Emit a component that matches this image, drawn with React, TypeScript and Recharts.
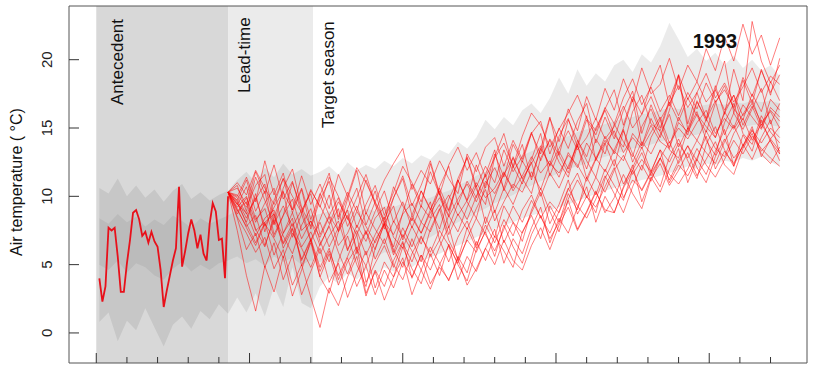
import { ComposedChart, Line, Area, XAxis, YAxis, ReferenceArea } from 'recharts';

// days are counted from the start of the antecedent period
const X_DOMAIN: [number, number] = [-8.9, 231.9];
const Y_DOMAIN: [number, number] = [-2.2, 23.93];
const X_TICKS = [0, 10, 20, 30, 40, 50, 60, 70, 80, 90, 100, 110, 120, 130, 140, 150, 160, 170, 180, 190, 200, 210, 220];
const Y_TICKS = [0, 5, 10, 15, 20];

const LEAD_START = 43;
const TARGET_START = 70.7;

// observed temperature in the antecedent period, one value per day from day 1
const OBS_START = 1;
const observed = [
  4.0, 2.3, 3.4, 7.7, 7.5, 7.7, 5.6, 3.0, 3.0, 5.1,
  6.8, 8.8, 9.0, 8.3, 7.1, 7.4, 6.6, 7.4, 6.7, 6.3,
  4.6, 1.9, 3.1, 4.2, 5.3, 6.2, 10.7, 4.85, 6.0, 7.3,
  8.3, 7.5, 6.2, 7.2, 5.8, 5.3, 8.0, 9.5, 8.9, 6.8,
  6.9, 4.0, 10.0,
];

// climatology envelope, every 3 days from day 1
const ENV_START = 1;
const STEP = 3;
const outerHi = [
  10.6, 10.2, 11.3, 10.0, 10.8, 9.9, 10.5, 9.6, 10.4, 10.9, 9.8, 10.3, 9.7, 10.1, 10.4,
  11.2, 11.8, 11.0, 12.1, 11.4, 12.4, 11.6, 12.0, 11.5,
  11.8, 12.2, 11.6, 12.5, 11.9, 12.3, 12.0, 12.6, 12.2, 12.8,
  12.4, 13.0, 12.7, 13.4, 13.1, 14.0, 13.5, 14.3, 15.6, 14.9,
  15.8, 15.2, 16.3, 16.8, 16.1, 17.2, 18.7, 17.5, 19.3, 18.1,
  19.0, 18.4, 19.6, 20.0, 19.1, 20.4, 19.8, 21.0, 22.7, 21.5,
  20.2, 20.8, 19.9, 20.5, 19.6, 20.3, 19.4, 20.0, 19.2, 19.6, 18.8,
];
const outerLo = [
  0.8, 1.5, -0.6, 0.9, 0.2, 1.8, 0.4, -1.0, 0.6, 1.2, 0.3, 1.6, 1.0, 2.1, 1.4,
  2.6, 1.5, 2.9, 1.2, 3.4, 1.9, 4.8, 2.2, 1.8,
  3.4, 4.1, 3.6, 4.4, 3.9, 4.6, 4.2, 4.8, 4.5, 5.0,
  4.8, 5.3, 5.5, 5.8, 6.1, 6.4, 6.7, 7.0, 7.3, 7.6,
  7.9, 8.1, 8.4, 8.6, 8.8, 9.0, 9.2, 9.4, 9.7, 9.9,
  10.2, 10.4, 10.6, 10.8, 11.0, 11.2, 11.3, 11.5, 11.7, 11.9,
  12.2, 12.0, 12.4, 12.3, 12.6, 12.5, 12.8, 12.6, 12.9, 12.5, 12.2,
];
const innerHi = [
  8.4, 8.0, 8.7, 8.1, 8.5, 7.8, 8.3, 7.9, 8.6, 8.2, 7.7, 8.4, 8.0, 8.3, 8.6,
  9.0, 9.3, 8.8, 9.2, 8.7, 9.1, 8.9, 8.8, 8.6,
  8.7, 8.9, 8.6, 9.0, 8.8, 9.1, 8.9, 9.3, 9.2, 9.5,
  9.4, 9.7, 9.9, 10.2, 10.4, 10.8, 11.1, 11.5, 11.8, 12.1,
  12.4, 12.7, 13.0, 13.3, 13.6, 13.9, 14.2, 14.4, 14.7, 14.9,
  15.1, 15.3, 15.5, 15.7, 15.8, 16.0, 16.1, 16.3, 16.5, 16.4,
  16.5, 16.6, 16.7, 16.8, 16.7, 16.9, 16.8, 17.0, 16.9, 17.0, 16.8,
];
const innerLo = [
  5.0, 4.6, 5.3, 4.4, 5.1, 4.8, 4.2, 3.9, 4.7, 5.2, 4.5, 5.0, 4.6, 5.1, 5.3,
  5.6, 5.1, 5.4, 4.9, 5.6, 5.2, 5.5, 5.0, 5.3,
  5.2, 5.4, 5.1, 5.5, 5.3, 5.7, 5.5, 5.9, 5.8, 6.2,
  6.3, 6.7, 7.0, 7.4, 7.7, 8.1, 8.4, 8.8, 9.1, 9.5,
  9.8, 10.1, 10.5, 10.8, 11.1, 11.4, 11.7, 12.0, 12.2, 12.4,
  12.7, 12.9, 13.1, 13.3, 13.5, 13.6, 13.8, 14.0, 14.2, 14.3,
  14.4, 14.5, 14.7, 14.8, 14.9, 15.0, 15.1, 15.2, 15.3, 15.2, 15.1,
];

// forecast members, every 3 days from day 43
const ENS_START = 43;
const m01 = [
  10.3, 9.7, 11.2, 8.9, 10.4, 7.2, 8.6, 11.0, 9.1, 6.8,
  8.3, 10.1, 7.4, 9.8, 11.9, 8.7, 10.4, 7.9, 6.3, 8.8,
  10.9, 9.2, 12.4, 10.1, 8.6, 11.3, 12.8, 10.5, 9.4, 12.9,
  14.6, 12.1, 13.8, 11.2, 13.5, 15.8, 13.0, 11.7, 14.1, 12.6,
  11.4, 13.9, 12.2, 14.8, 13.1, 11.9, 14.3, 15.6, 13.4, 12.8,
  14.9, 16.2, 14.1, 13.0, 15.4, 16.8, 14.6, 13.8, 15.9, 14.7, 13.9,
];
const m02 = [
  10.3, 8.4, 6.1, 7.3, 4.8, 6.6, 3.9, 5.7, 2.8, 4.5,
  6.2, 3.7, 5.1, 2.6, 4.4, 6.0, 3.3, 5.2, 4.1, 6.3,
  4.7, 3.6, 5.8, 4.2, 6.5, 5.0, 3.8, 6.1, 7.4, 5.6,
  7.9, 6.3, 5.1, 7.2, 8.6, 6.9, 8.1, 9.7, 7.6, 8.9,
  10.4, 8.8, 9.9, 11.6, 10.2, 9.1, 11.3, 12.4, 10.8, 11.9,
  13.2, 11.5, 12.7, 14.0, 12.3, 11.6, 13.5, 14.6, 13.1, 12.4, 13.6,
];
const m03 = [
  10.3, 10.6, 9.4, 11.8, 10.2, 12.3, 9.8, 11.1, 8.7, 10.5,
  9.2, 11.4, 10.0, 8.3, 9.9, 11.6, 9.5, 8.1, 10.7, 9.3,
  8.2, 10.4, 9.1, 7.6, 9.8, 11.2, 9.6, 8.4, 10.9, 12.1,
  10.6, 12.9, 11.3, 10.2, 12.8, 14.1, 12.5, 11.4, 13.7, 12.0,
  14.2, 13.1, 15.3, 14.0, 12.9, 15.1, 16.4, 14.7, 13.6, 15.8,
  14.5, 16.9, 15.7, 14.3, 16.1, 17.4, 15.2, 16.6, 15.0, 17.1, 16.3,
];
const m04 = [
  10.3, 7.5, 4.2, 1.6, 4.9, 3.0, 5.6, 2.7, 4.6, 6.8,
  4.1, 2.9, 5.3, 7.1, 5.0, 3.4, 6.2, 8.0, 6.1, 4.8,
  6.9, 5.2, 7.6, 9.1, 6.8, 5.4, 7.7, 6.2, 8.5, 7.0,
  9.3, 8.1, 6.7, 9.0, 10.6, 8.9, 7.4, 9.8, 11.2, 10.0,
  8.8, 11.3, 12.7, 10.9, 12.1, 13.6, 11.8, 10.7, 12.9, 14.2,
  12.6, 11.3, 13.8, 15.1, 13.4, 12.2, 14.5, 13.3, 15.6, 14.0, 13.1,
];
const m05 = [
  10.3, 10.0, 11.4, 9.6, 12.6, 10.1, 11.7, 9.0, 10.6, 8.3,
  10.2, 8.6, 9.9, 7.8, 9.3, 7.2, 8.9, 10.4, 8.1, 9.6,
  7.7, 9.3, 8.4, 10.6, 9.0, 11.2, 9.7, 12.3, 10.6, 13.1,
  11.4, 13.8, 12.5, 14.6, 13.1, 15.7, 14.0, 16.4, 14.8, 17.3,
  15.6, 17.9, 16.3, 18.6, 16.9, 19.4, 17.5, 18.2, 20.1, 17.8,
  19.6, 18.4, 20.8, 19.2, 21.7, 19.9, 22.6, 20.4, 21.8, 19.6, 21.6,
];
const m06 = [
  10.3, 9.0, 7.8, 8.6, 6.4, 8.3, 6.5, 7.7, 5.4, 6.9,
  4.8, 6.2, 3.9, 5.5, 3.4, 4.9, 2.8, 4.6, 3.3, 5.2,
  4.1, 5.7, 3.6, 4.8, 3.9, 5.4, 3.5, 4.7, 6.2, 5.0,
  6.8, 5.3, 4.6, 6.4, 7.7, 6.1, 7.9, 9.2, 7.5, 8.8,
  10.3, 9.0, 8.8, 10.6, 11.9, 10.4, 11.7, 12.8, 11.2, 12.6,
  13.7, 12.1, 11.0, 12.9, 14.2, 12.8, 13.6, 14.9, 13.3, 14.1, 12.6,
];
const m07 = [
  10.3, 9.5, 8.1, 10.2, 7.4, 9.7, 11.3, 8.8, 10.5, 7.6,
  9.8, 11.1, 8.3, 10.0, 7.7, 9.4, 10.8, 8.6, 10.3, 12.2,
  11.0, 9.6, 11.8, 10.1, 12.3, 13.6, 11.9, 13.2, 11.4, 12.8,
  13.9, 12.2, 14.4, 16.1, 15.2, 13.6, 14.9, 16.1, 17.4, 15.7,
  14.8, 16.5, 15.3, 17.2, 18.6, 16.7, 18.0, 16.2, 17.4, 15.9,
  17.6, 16.4, 18.3, 16.9, 17.8, 16.5, 18.7, 17.3, 19.2, 17.6, 18.9,
];
const m08 = [
  10.3, 8.9, 9.6, 7.5, 8.1, 8.7, 6.6, 8.0, 6.3, 7.4,
  5.8, 7.1, 8.2, 6.0, 7.9, 6.7, 8.4, 9.2, 7.0, 6.2,
  7.8, 6.5, 8.3, 9.4, 7.2, 8.7, 7.6, 9.1, 10.5, 8.2,
  9.6, 10.9, 10.3, 11.8, 10.5, 12.4, 11.7, 13.0, 12.3, 11.1,
  12.7, 13.9, 14.8, 13.2, 14.3, 13.5, 14.7, 15.8, 13.9, 15.0,
  14.2, 15.4, 16.3, 14.6, 15.7, 14.9, 16.0, 17.1, 15.2, 16.3, 15.5,
];
const m09 = [
  10.3, 9.4, 8.8, 7.1, 8.4, 9.0, 6.2, 7.6, 5.3, 6.8,
  4.5, 6.0, 4.2, 5.6, 7.2, 3.7, 5.1, 6.4, 4.8, 6.6,
  5.2, 7.0, 5.9, 7.5, 6.4, 5.1, 6.9, 8.4, 7.2, 6.0,
  7.6, 9.3, 8.1, 9.7, 8.5, 7.3, 8.9, 10.6, 9.3, 8.4,
  9.8, 11.5, 10.2, 8.8, 10.7, 12.3, 11.1, 12.8, 11.6, 10.9,
  12.0, 13.5, 12.3, 11.4, 12.7, 14.1, 13.1, 14.4, 13.5, 12.8, 12.2,
];
const m10 = [
  10.3, 10.1, 9.2, 10.8, 11.6, 8.5, 10.3, 9.0, 11.5, 9.4,
  10.9, 9.1, 11.6, 10.0, 12.1, 11.0, 9.6, 11.2, 12.4, 13.5,
  10.5, 11.9, 10.9, 12.6, 11.3, 10.2, 13.1, 11.8, 13.6, 14.3,
  12.2, 14.1, 12.7, 14.6, 15.5, 13.1, 15.0, 13.5, 15.5, 16.8,
  13.9, 15.8, 14.2, 16.3, 17.7, 14.6, 16.7, 15.0, 17.1, 18.9,
  15.3, 17.6, 15.7, 18.1, 16.0, 19.3, 17.0, 22.8, 19.9, 18.3, 19.6,
];
const m11 = [
  10.3, 8.5, 7.3, 5.9, 7.0, 4.7, 6.1, 3.5, 5.0, 2.6,
  0.4, 3.3, 2.0, 4.1, 5.6, 2.7, 4.6, 3.4, 5.3, 6.7,
  4.0, 5.7, 4.6, 6.3, 7.8, 5.3, 6.8, 5.9, 7.5, 9.0,
  6.6, 8.1, 7.3, 8.8, 10.3, 8.0, 9.4, 11.2, 8.7, 10.0,
  9.2, 10.7, 12.1, 9.9, 11.2, 10.5, 11.8, 13.4, 11.0, 12.3,
  11.5, 12.8, 14.4, 12.0, 13.3, 12.4, 13.7, 15.1, 12.9, 14.2, 13.3,
];
const m12 = [
  10.3, 9.7, 8.4, 9.9, 7.8, 9.2, 10.4, 7.0, 8.7, 6.7,
  8.1, 6.3, 7.7, 9.0, 5.8, 7.4, 6.1, 8.0, 9.3, 6.8,
  8.6, 7.3, 9.0, 10.4, 7.7, 9.5, 8.3, 10.0, 11.6, 8.8,
  10.6, 9.4, 11.1, 12.5, 10.0, 11.7, 10.6, 12.2, 13.8, 11.3,
  12.8, 11.8, 13.4, 14.9, 12.5, 14.0, 13.1, 14.5, 16.0, 13.6,
  15.0, 14.1, 15.6, 17.0, 14.5, 16.1, 14.9, 16.4, 17.9, 15.3, 16.8,
];
const m13 = [
  10.3, 9.2, 10.0, 8.1, 9.5, 10.6, 7.3, 8.8, 6.9, 8.2,
  6.4, 7.9, 9.1, 6.1, 7.5, 5.7, 7.2, 8.5, 5.9, 7.7,
  6.3, 8.1, 9.6, 6.8, 8.6, 7.4, 9.2, 10.8, 8.0, 9.9,
  11.7, 10.6, 12.6, 11.4, 13.5, 12.3, 14.4, 15.7, 13.6, 15.6,
  14.5, 16.4, 17.8, 15.2, 17.3, 16.0, 18.1, 19.6, 16.6, 18.9,
  17.1, 18.4, 16.9, 17.8, 16.3, 17.4, 15.9, 16.8, 15.4, 16.2, 15.0,
];
const m14 = [
  10.3, 9.6, 8.0, 6.6, 8.1, 5.7, 7.3, 8.4, 4.9, 6.6,
  4.1, 5.8, 3.5, 5.2, 6.3, 2.9, 4.5, 2.4, 4.1, 5.5,
  2.8, 4.6, 3.2, 5.0, 6.4, 3.9, 5.6, 4.5, 6.2, 7.6,
  5.1, 6.9, 5.8, 7.7, 9.2, 6.6, 8.4, 7.3, 9.2, 10.7,
  8.1, 10.0, 8.8, 10.7, 12.3, 9.6, 11.4, 10.3, 12.0, 13.5,
  11.0, 12.7, 11.6, 13.3, 14.9, 12.2, 13.8, 12.7, 14.3, 15.6, 13.1,
];
const m15 = [
  10.3, 9.9, 8.7, 9.8, 10.9, 8.0, 9.3, 7.8, 9.0, 10.2,
  7.2, 8.6, 7.5, 9.1, 10.6, 7.9, 9.6, 8.3, 9.9, 11.3,
  8.6, 10.4, 9.0, 10.7, 12.2, 9.4, 11.1, 9.9, 11.6, 13.4,
  10.4, 12.2, 10.9, 12.7, 14.6, 11.5, 13.3, 12.0, 13.8, 15.9,
  12.6, 14.4, 13.1, 15.0, 17.1, 13.7, 15.7, 14.3, 16.3, 18.8,
  14.9, 17.0, 15.5, 17.8, 19.9, 16.1, 18.5, 16.8, 19.3, 17.4, 20.1,
];
const m16 = [
  10.3, 8.7, 9.9, 7.6, 6.3, 8.5, 7.1, 5.8, 7.9, 9.1,
  6.7, 5.2, 7.4, 8.6, 6.1, 4.9, 6.8, 8.0, 5.7, 7.2,
  6.0, 4.6, 6.3, 5.1, 3.8, 5.6, 4.4, 6.7, 5.3, 7.1,
  6.0, 4.8, 7.4, 8.6, 6.9, 9.3, 8.1, 10.2, 9.0, 11.4,
  10.1, 12.0, 10.8, 9.7, 11.9, 13.2, 11.5, 12.8, 14.0, 12.4,
  13.7, 12.6, 14.8, 13.5, 12.9, 14.6, 15.7, 14.1, 15.3, 14.2, 15.1,
];
const m17 = [
  10.3, 10.8, 8.9, 11.4, 9.7, 7.9, 10.6, 12.0, 9.2, 7.8,
  10.1, 11.7, 8.5, 10.3, 8.9, 11.2, 9.4, 7.6, 9.9, 11.5,
  9.3, 10.8, 12.6, 10.2, 8.9, 11.0, 12.9, 10.7, 12.2, 11.0,
  13.4, 11.8, 12.9, 14.7, 12.6, 14.2, 13.0, 15.6, 14.1, 12.9,
  15.0, 16.3, 14.5, 13.6, 16.2, 17.4, 15.3, 14.8, 16.9, 15.5,
  17.2, 15.9, 14.7, 16.8, 18.1, 16.4, 15.6, 17.5, 16.2, 18.4, 17.0,
];
const m18 = [
  10.3, 9.1, 7.7, 6.4, 8.0, 6.9, 5.5, 7.3, 6.2, 4.8,
  6.5, 7.8, 5.9, 4.3, 6.1, 7.5, 5.4, 6.9, 5.0, 3.9,
  5.8, 7.1, 5.6, 6.8, 5.2, 7.0, 8.2, 6.4, 7.9, 6.6,
  8.3, 7.1, 9.0, 10.1, 8.4, 9.6, 8.8, 10.5, 11.7, 9.9,
  11.4, 10.3, 11.9, 13.0, 11.6, 12.7, 11.8, 13.4, 12.5, 13.9,
  12.8, 14.1, 13.2, 12.4, 14.0, 15.2, 13.7, 14.8, 13.9, 15.0, 14.3,
];
const m19 = [
  10.3, 9.4, 10.7, 8.3, 9.1, 7.0, 8.6, 9.8, 7.5, 8.2,
  7.0, 8.5, 6.4, 7.3, 8.9, 7.8, 6.6, 8.1, 7.2, 8.7,
  9.5, 8.1, 7.4, 9.0, 10.1, 8.6, 9.7, 11.0, 9.9, 10.6,
  11.8, 10.4, 11.5, 12.9, 11.7, 12.6, 11.4, 13.2, 12.1, 13.9,
  12.8, 14.1, 13.3, 12.6, 14.6, 13.7, 15.2, 14.0, 13.5, 15.4,
  14.7, 16.0, 15.1, 14.3, 16.2, 15.0, 16.7, 15.8, 14.9, 16.5, 15.8,
];
const m20 = [
  10.3, 11.0, 10.1, 11.9, 10.6, 9.4, 11.3, 10.0, 8.8, 10.4,
  9.3, 8.0, 9.6, 8.4, 7.2, 8.8, 7.6, 6.5, 8.2, 7.0,
  8.4, 7.3, 8.8, 9.9, 8.5, 9.8, 10.9, 9.6, 11.1, 10.2,
  11.6, 12.8, 11.3, 12.4, 13.7, 12.2, 13.5, 14.8, 13.4, 14.3,
  15.7, 14.2, 15.1, 16.6, 15.0, 16.0, 17.3, 15.6, 16.8, 18.1,
  16.5, 17.6, 19.0, 17.2, 18.3, 16.9, 18.0, 19.4, 17.6, 18.8, 18.2,
];
const members = [m01, m02, m03, m04, m05, m06, m07, m08, m09, m10, m11, m12, m13, m14, m15, m16, m17, m18, m19, m20];

const LAST_DAY = ENS_START + (m01.length - 1) * STEP;

const rows: any[] = [];
for (let d = 0; d <= LAST_DAY; d++) rows.push({ day: d });
observed.forEach((v, i) => { rows[OBS_START + i].obs = v; });
outerHi.forEach((_, i) => {
  const r = rows[ENV_START + i * STEP];
  r.outer = [outerLo[i], outerHi[i]];
  r.inner = [innerLo[i], innerHi[i]];
});
members.forEach((m, k) => m.forEach((v, i) => { rows[ENS_START + i * STEP]['m' + k] = v; }));

const FONT = '"Liberation Sans", Arial, Helvetica, sans-serif';

const XTick = (props: any) => {
  const { x, y, payload } = props;
  const len = payload.value % 50 === 0 ? 10 : 6;
  return <line x1={x} x2={x} y1={y} y2={y - len} stroke="#333" strokeWidth={1} />;
};

const YTick = (props: any) => {
  const { x, y, payload } = props;
  const lx = x - 22;
  return (
    <g>
      <line x1={x} x2={x + 10} y1={y} y2={y} stroke="#333" strokeWidth={1} />
      <text x={lx} y={y} transform={`rotate(-90 ${lx} ${y})`} textAnchor="middle" dominantBaseline="central" fontSize={15} fill="#222" fontFamily={FONT}>
        {payload.value}
      </text>
    </g>
  );
};

const vText = (label: string, x: number, y: number, size: number) => (
  <text x={x} y={y} transform={`rotate(-90 ${x} ${y})`} textAnchor="start" dominantBaseline="central" fontSize={size} fill="#111">
    {label}
  </text>
);

export default function App() {
  return (
    <div style={{ position: 'absolute', left: 0, top: 0, width: 824, height: 381, background: '#fff', fontFamily: FONT }}>
      <ComposedChart width={824} height={381} data={rows} margin={{ top: 6, right: 17, bottom: 0, left: 0 }}>
        <XAxis dataKey="day" type="number" domain={X_DOMAIN} ticks={X_TICKS} allowDataOverflow axisLine={false} tickLine={false} tickSize={0} tickMargin={0} height={18} tick={XTick} interval={0} />
        <YAxis type="number" domain={Y_DOMAIN} ticks={Y_TICKS} allowDataOverflow axisLine={false} tickLine={false} tickSize={0} tickMargin={0} width={69} tick={YTick} interval={0} />
        <ReferenceArea x1={0} x2={LEAD_START} fill="#d8d8d8" fillOpacity={1} stroke="none" />
        <ReferenceArea x1={LEAD_START} x2={TARGET_START} fill="#ebebeb" fillOpacity={1} stroke="none" />
        <Area dataKey="outer" type="linear" stroke="none" fill="#000" fillOpacity={0.08} connectNulls isAnimationActive={false} />
        <Area dataKey="inner" type="linear" stroke="none" fill="#000" fillOpacity={0.06} connectNulls isAnimationActive={false} />
        {members.map((_, k) => (
          <Line key={k} dataKey={'m' + k} type="linear" stroke="#ff0000" strokeOpacity={0.5} strokeWidth={1} dot={false} connectNulls isAnimationActive={false} />
        ))}
        <Line dataKey="obs" type="linear" stroke="#e8101a" strokeWidth={1.8} dot={false} connectNulls isAnimationActive={false} />
        <ReferenceArea x1={X_DOMAIN[0]} x2={X_DOMAIN[1]} y1={Y_DOMAIN[0]} y2={Y_DOMAIN[1]} fill="none" stroke="#555" strokeWidth={1} />
      </ComposedChart>
      <svg width={824} height={381} style={{ position: 'absolute', left: 0, top: 0, pointerEvents: 'none' }}>
        <text x={16} y={182} transform="rotate(-90 16 182)" textAnchor="middle" dominantBaseline="central" fontSize={16} fill="#111">
          Air temperature ( °C)
        </text>
        {vText('Antecedent', 117, 105, 17)}
        {vText('Lead-time', 244, 93, 17)}
        {vText('Target season', 328, 128, 17)}
        <text x={715} y={41} textAnchor="middle" dominantBaseline="central" fontSize={20} fontWeight="bold" fill="#111">
          1993
        </text>
      </svg>
    </div>
  );
}
